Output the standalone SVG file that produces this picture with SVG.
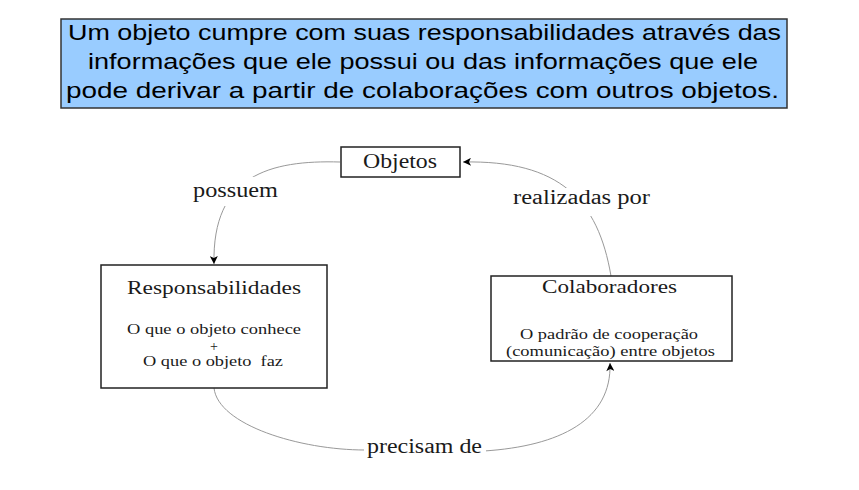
<svg xmlns="http://www.w3.org/2000/svg" width="859" height="490" viewBox="0 0 859 490">
<style>
.banner{fill:#99CCFF;stroke:#333;stroke-width:1.5}
.bt{font-family:"Liberation Sans",Arial,sans-serif;font-size:21.5px;fill:#000}
.box{fill:#fff;stroke:#222;stroke-width:1.5}
.st{font-family:"Liberation Serif","Times New Roman",serif;fill:#1a1a1a}
.big{font-size:20px}
.mid{font-size:19.5px}
.small{font-size:15px}
.plus{font-size:14px}
.conn{fill:none;stroke:#999;stroke-width:1}
.lbg{fill:#fff}
</style>
<defs>
<marker id="arr" viewBox="0 0 10 10" refX="10" refY="5" markerWidth="9" markerHeight="8" markerUnits="userSpaceOnUse" orient="auto">
<path d="M0,0 L10,5 L0,10 L2.5,5 z" fill="#000"/>
</marker>
</defs>
<rect width="859" height="490" fill="#fff"/>
<g id="banner">
<rect class="banner" x="61" y="19" width="726" height="89"/>
<text class="bt" x="68" y="40" textLength="713" lengthAdjust="spacingAndGlyphs">Um objeto cumpre com suas responsabilidades através das</text>
<text class="bt" x="88" y="69" textLength="670" lengthAdjust="spacingAndGlyphs">informações que ele possui ou das informações que ele</text>
<text class="bt" x="66" y="98" textLength="713" lengthAdjust="spacingAndGlyphs">pode derivar a partir de colaborações com outros objetos.</text>
</g>
<g id="connectors">
<path class="conn" d="M340,162 C270,160 212,175 214,264" marker-end="url(#arr)"/>
<path class="conn" d="M611,276 C598,200 560,160 463,162" marker-end="url(#arr)"/>
<path class="conn" d="M214,388 C218,425 300,450 365,450 L484,451 C560,446 612,420 610,363" marker-end="url(#arr)"/>
</g>
<g id="labels">
<rect class="lbg" x="190" y="177" width="92" height="29"/>
<text class="st big" x="193" y="197" textLength="85" lengthAdjust="spacingAndGlyphs">possuem</text>
<rect class="lbg" x="508" y="188" width="147" height="28"/>
<text class="st big" x="513" y="204" textLength="137" lengthAdjust="spacingAndGlyphs">realizadas por</text>
<rect class="lbg" x="364" y="437" width="122" height="24"/>
<text class="st big" x="367" y="453" textLength="115" lengthAdjust="spacingAndGlyphs">precisam de</text>
</g>
<g id="objetos">
<rect class="box" x="341" y="147" width="119" height="30"/>
<text class="st big" x="363" y="168" textLength="74" lengthAdjust="spacingAndGlyphs">Objetos</text>
</g>
<g id="responsabilidades">
<rect class="box" x="101" y="265" width="226" height="123"/>
<text class="st mid" x="127" y="294" textLength="174" lengthAdjust="spacingAndGlyphs">Responsabilidades</text>
<text class="st small" x="127" y="334" textLength="174" lengthAdjust="spacingAndGlyphs">O que o objeto conhece</text>
<text class="st plus" x="214" y="351" text-anchor="middle">+</text>
<text class="st small" x="143" y="366" textLength="140" lengthAdjust="spacingAndGlyphs" xml:space="preserve">O que o objeto  faz</text>
</g>
<g id="colaboradores">
<rect class="box" x="491" y="276" width="241" height="85"/>
<text class="st mid" x="542" y="293" textLength="135" lengthAdjust="spacingAndGlyphs">Colaboradores</text>
<text class="st small" x="520" y="339" textLength="178" lengthAdjust="spacingAndGlyphs">O padrão de cooperação</text>
<text class="st small" x="506" y="356" textLength="209" lengthAdjust="spacingAndGlyphs">(comunicação) entre objetos</text>
</g>
</svg>
